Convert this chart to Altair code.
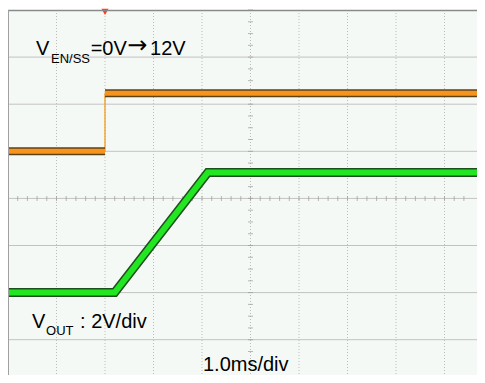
import altair as alt
import pandas as pd
import numpy as np

# --- data (time in ms, 1 ms/div; trigger at t = 0) ---
en_time = [-2.0, 0.0, 0.0, 8.0]
en_volts = [0.0, 0.0, 12.3, 12.3]          # EN/SS, 10 V/div, ground at div 5
en_seg = ["low", "low", "high", "high"]
vout_time = [-2.0, 0.2, 2.12, 8.0]
vout_volts = [0.0, 0.0, 5.1, 5.1]         # VOUT, 2 V/div, ground at div 2

EN_SCALE, EN_OFF = 10.0, 5.0
VO_SCALE, VO_OFF = 2.0, 2.0

label_text = ["V", "EN/SS", "=0V", "12V", "V", "OUT", ": 2V/div", "1.0ms/div"]
label_x = [-1.423, -1.113, -0.295, 0.928, -1.505, -1.216, -0.515, 2.02]
label_y = [7.05, 6.88, 7.05, 7.05, 1.25, 1.104, 1.25, 0.33]
label_size = [20, 13, 20, 20, 20, 13, 20, 20]

arrow_text = ["\u2192"]
arrow_x = [0.46]
arrow_y = [7.09]

x_grid = list(range(-2, 8))
y_grid = list(range(0, 9))

PLOT_W, PLOT_H = 469, 365

en_df = pd.DataFrame({
    "t": en_time,
    "pos": [EN_OFF + v / EN_SCALE for v in en_volts],
    "seg": en_seg,
})
vo_df = pd.DataFrame({
    "t": vout_time,
    "pos": [VO_OFF + v / VO_SCALE for v in vout_volts],
})
lab_df = pd.DataFrame({"text": label_text, "t": label_x, "pos": label_y, "size": label_size})
arr_df = pd.DataFrame({"text": arrow_text, "t": arrow_x, "pos": arrow_y})

xs = alt.Scale(domain=[-2, -2 + PLOT_W / 48.5], nice=False, zero=False)
ys = alt.Scale(domain=[8 - PLOT_H / 47.1, 8], nice=False, zero=False)

X = lambda: alt.X("t:Q", scale=xs, axis=None)
Y = lambda: alt.Y("pos:Q", scale=ys, axis=None)

vgrid = alt.Chart(pd.DataFrame({"t": x_grid})).mark_rule(
    color="#bcbcbc", strokeWidth=1, strokeDash=[1, 2]).encode(x=X())
hgrid = alt.Chart(pd.DataFrame({"pos": y_grid})).mark_rule(
    color="#c2c2c2", strokeWidth=1, clip=True).encode(y=Y())

# minor ticks on the centre lines
xt = pd.DataFrame({"t": np.round(np.arange(-2, 7.6, 0.2), 3), "pos": 4.0})
yt = pd.DataFrame({"t": 3.0, "pos": np.round(np.arange(0.5, 8.01, 0.25), 3)})
ticks_x = alt.Chart(xt).mark_tick(orient="vertical", size=5, thickness=1, color="#9a9a9a").encode(x=X(), y=Y())
ticks_y = alt.Chart(yt).mark_tick(orient="horizontal", size=5, thickness=1, color="#9a9a9a").encode(x=X(), y=Y())

en_thin = alt.Chart(en_df).mark_line(color="#f39a1c", strokeWidth=1.3, clip=True).encode(x=X(), y=Y(), order="t:Q")
en_dark = alt.Chart(en_df).mark_line(color="#5e4216", strokeWidth=8, clip=True).encode(x=X(), y=Y(), detail="seg:N")
en_main = alt.Chart(en_df).mark_line(color="#f7941d", strokeWidth=5, clip=True).encode(x=X(), y=Y(), detail="seg:N")

vo_dark = alt.Chart(vo_df).mark_line(color="#1d4f1d", strokeWidth=9, clip=True, strokeJoin="miter").encode(x=X(), y=Y())
vo_main = alt.Chart(vo_df).mark_line(color="#22e622", strokeWidth=6, clip=True, strokeJoin="miter").encode(x=X(), y=Y())

texts = alt.Chart(lab_df).mark_text(align="left", baseline="alphabetic", font="Liberation Sans",
                                    color="#000000").encode(
    x=X(), y=Y(), text="text:N", size=alt.Size("size:Q", scale=None, legend=None))
arrow = alt.Chart(arr_df).mark_text(align="left", baseline="alphabetic", font="DejaVu Sans",
                                    fontSize=24, color="#000000").encode(x=X(), y=Y(), text="text:N")

marker = alt.Chart(pd.DataFrame({"t": [0.0], "pos": [7.96]})).mark_point(
    shape="triangle-down", filled=True, size=50, color="#ff3b1a", opacity=1).encode(x=X(), y=Y())

top_border = alt.Chart(pd.DataFrame({"a": [0]})).mark_rule(color="#8a8a8a", strokeWidth=1.5).encode(
    x=alt.value(0), x2=alt.value(PLOT_W), y=alt.value(0.5))
left_border = alt.Chart(pd.DataFrame({"a": [0]})).mark_rule(color="#a0a0a0", strokeWidth=1).encode(
    x=alt.value(0.5), y=alt.value(0), y2=alt.value(PLOT_H))

chart = alt.layer(vgrid, hgrid, ticks_x, ticks_y, en_thin, en_dark, en_main, vo_dark, vo_main,
                  texts, arrow, marker, top_border, left_border).properties(
    width=PLOT_W, height=PLOT_H,
    autosize=alt.AutoSizeParams(type="none"),
    padding={"left": 0, "top": 2, "right": 0, "bottom": 0},
    background="#ffffff",
).configure_view(fill="#f5f9f6", stroke="transparent")

chart.save("out.html", embed_options={"renderer": "svg", "actions": False})
